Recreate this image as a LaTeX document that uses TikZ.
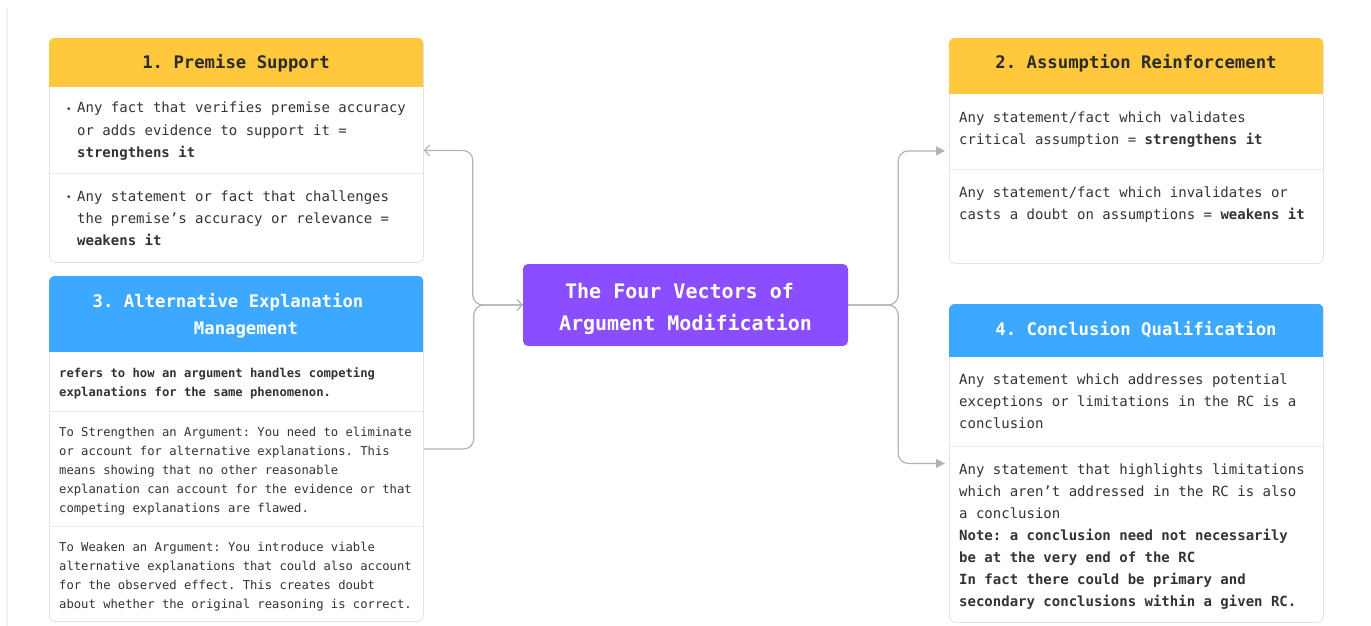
\documentclass[tikz,border=0pt]{standalone}
\usepackage{fontspec}
\setmainfont{DejaVu Sans Mono}
\usetikzlibrary{arrows.meta}
\definecolor{hdryellow}{HTML}{FFC83D}
\definecolor{hdrblue}{HTML}{3DA8FF}
\definecolor{hdrpurple}{HTML}{8A4DFF}
\definecolor{connline}{HTML}{B3B3B3}
\definecolor{cardline}{HTML}{E3E3E3}
\definecolor{divline}{HTML}{EBEBEB}
\definecolor{bodytext}{HTML}{333333}
\definecolor{headdark}{HTML}{2B2B2B}
\definecolor{edgeline}{HTML}{F0F0F0}
\newcommand\rsp{\frenchspacing\spaceskip=0.60205em\relax\xspaceskip=0.60205em\relax}
\newcommand\bul{\makebox[11pt][l]{\raisebox{1pt}{\fontsize{9}{9}\selectfont•}}}
\newcommand\ind{\hspace*{11pt}}
\begin{document}
\begin{tikzpicture}[x=1pt,y=-1pt,
  card/.style={draw=cardline, line width=0.8pt, fill=white, rounded corners=6pt,
    minimum width=374pt, anchor=north west, inner sep=0pt},
  body/.style={anchor=base west, inner sep=0pt, text width=372pt, align=left,
    text=bodytext, font=\fontsize{14}{22}\selectfont},
  smallbody/.style={anchor=base west, inner sep=0pt, text width=372pt, align=left,
    text=bodytext, font=\fontsize{12.2}{19}\selectfont},
  htitle/.style={anchor=base, inner sep=0pt, text width=374pt, align=center,
    font=\bfseries\fontsize{17.3}{27.5}\selectfont},
  hub/.style={fill=hdrpurple, rounded corners=5pt, minimum width=325pt,
    minimum height=82pt, inner sep=0pt},
  hubtext/.style={inner sep=0pt, text=white, align=center,
    font=\bfseries\fontsize{20}{32}\selectfont},
  divider/.style={draw=divline, line width=0.8pt},
  linkin/.style={draw=connline, line width=1.2pt, rounded corners=10pt,
    -{Straight Barb[length=5pt,width=11pt,line width=1.2pt]}},
  linkout/.style={draw=connline, line width=1.2pt, rounded corners=10pt,
    -{Triangle[length=9pt,width=9pt]}, shorten >=4pt}
]
\useasboundingbox (0,0) rectangle (1371,626);
\fill[white] (0,0) rectangle (1371,626);
\draw[edgeline, line width=1.2pt] (7,8) -- (7,626);

% ---------- card 1
\node[card, minimum height=224pt] (b1) at (49,38) {};
\begin{scope}
  \clip[rounded corners=6pt] (b1.north west) rectangle (b1.south east);
  \fill[hdryellow] (b1.north west) rectangle (423,87);
\end{scope}
\draw[divider] (49,173) -- (423,173);
\node[htitle, text=headdark] (t1) at (236,69) {\rsp 1. Premise Support};
\node[body] (p1a) at (66,113) {\rsp\bul Any fact that verifies premise accuracy\\
\ind or adds evidence to support it =\\
\ind\textbf{strengthens it}};
\node[body] (p1b) at (66,201) {\rsp\bul Any statement or fact that challenges\\
\ind the premise’s accuracy or relevance =\\
\ind\textbf{weakens it}};

% ---------- card 2
\node[card, minimum height=225pt] (b2) at (949,38) {};
\begin{scope}
  \clip[rounded corners=6pt] (b2.north west) rectangle (b2.south east);
  \fill[hdryellow] (b2.north west) rectangle (1323,94);
\end{scope}
\draw[divider] (949,169) -- (1323,169);
\node[htitle, text=headdark] (t2) at (1136,69) {\rsp 2. Assumption Reinforcement};
\node[body] (p2a) at (959,122) {\rsp Any statement/fact which validates\\
critical assumption = \textbf{strengthens it}};
\node[body] (p2b) at (959,197) {\rsp Any statement/fact which invalidates or\\
casts a doubt on assumptions = \textbf{weakens it}};

% ---------- card 3
\node[card, minimum height=345pt] (b3) at (49,276) {};
\begin{scope}
  \clip[rounded corners=6pt] (b3.north west) rectangle (b3.south east);
  \fill[hdrblue] (b3.north west) rectangle (423,352);
\end{scope}
\draw[divider] (49,411) -- (423,411);
\draw[divider] (49,526) -- (423,526);
\node[htitle, text=white] (t3) at (236,307) {\rsp 3. Alternative Explanation\kern16pt\\\hspace*{20pt}Management};
\node[smallbody] (p3a) at (59,377) {\rsp\textbf{refers to how an argument handles competing}\\
\textbf{explanations for the same phenomenon.}};
\node[smallbody] (p3b) at (59,436) {\rsp To Strengthen an Argument: You need to eliminate\\
or account for alternative explanations. This\\
means showing that no other reasonable\\
explanation can account for the evidence or that\\
competing explanations are flawed.};
\node[smallbody] (p3c) at (59,551) {\rsp To Weaken an Argument: You introduce viable\\
alternative explanations that could also account\\
for the observed effect. This creates doubt\\
about whether the original reasoning is correct.};

% ---------- card 4
\node[card, minimum height=318pt] (b4) at (949,304) {};
\begin{scope}
  \clip[rounded corners=6pt] (b4.north west) rectangle (b4.south east);
  \fill[hdrblue] (b4.north west) rectangle (1323,357);
\end{scope}
\draw[divider] (949,446) -- (1323,446);
\node[htitle, text=white] (t4) at (1136,335) {\rsp 4. Conclusion Qualification};
\node[body] (p4a) at (959,384) {\rsp Any statement which addresses potential\\
exceptions or limitations in the RC is a\\
conclusion};
\node[body] (p4b) at (959,474) {\rsp Any statement that highlights limitations\\
which aren’t addressed in the RC is also\\
a conclusion\\
\textbf{Note: a conclusion need not necessarily}\\
\textbf{be at the very end of the RC}\\
\textbf{In fact there could be primary and}\\
\textbf{secondary conclusions within a given RC.}};

% ---------- hub
\node[hub] (c) at (685.5,305) {};
\node[hubtext] (ct) at ([yshift=-4pt]c.center) {The Four Vectors of\kern12pt\\Argument Modification};

% ---------- connectors
\draw[linkin] (b3.east) -- ++(50,0) |- (c.west);
\draw[linkin] (c.west) -- ++(-50,0) |- (b1.east);
\draw[linkout] (c.east) -- ++(50,0) |- (b2.west);
\draw[linkout] (c.east) -- ++(50,0) |- (b4.west);
\end{tikzpicture}
\end{document}
